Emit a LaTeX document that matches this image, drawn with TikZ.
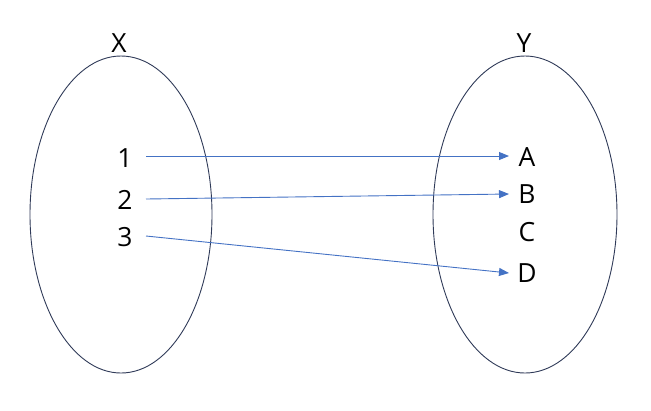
\documentclass[tikz,border=0pt]{standalone}
\usepackage{fontspec}
\setmainfont{Open Sans}
\usetikzlibrary{calc,arrows.meta}
\definecolor{setline}{RGB}{47,58,88}
\definecolor{arrblue}{RGB}{68,114,196}
\begin{document}
\begin{tikzpicture}[x=1bp,y=-1bp,
  lbl/.style={inner sep=0pt,font=\fontsize{26.5}{30}\selectfont},
  setshape/.style={draw=setline,line width=0.9bp},
  arr/.style={draw=arrblue,line width=0.9bp,-{Triangle[length=10bp,width=8bp]}}]
\useasboundingbox (0,0) rectangle (651,410);
\draw[setshape] (121,214.5) ellipse [x radius=91, y radius=158.5];
\draw[setshape] (525,214.5) ellipse [x radius=92, y radius=158.5];
\node[lbl] (X) at (119,43) {X};
\node[lbl] (Y) at (524,43) {Y};
\node[lbl] (n1) at (125,158.5) {1};
\node[lbl] (n2) at (125,199.5) {2};
\node[lbl] (n3) at (125,237) {3};
\node[lbl] (A) at (527,157.5) {A};
\node[lbl] (B) at (527,194.5) {B};
\node[lbl] (C) at (527,232.5) {C};
\node[lbl] (D) at (527,273) {D};
\draw[arr] ($(n1.center)+(21,-2.5)$) -- ($(A.center)+(-18,-1.5)$);
\draw[arr] ($(n2.center)+(21,-0.5)$) -- ($(B.center)+(-18,-0.5)$);
\draw[arr] ($(n3.center)+(21,-1)$) -- ($(D.center)+(-18,0)$);
\end{tikzpicture}
\end{document}
